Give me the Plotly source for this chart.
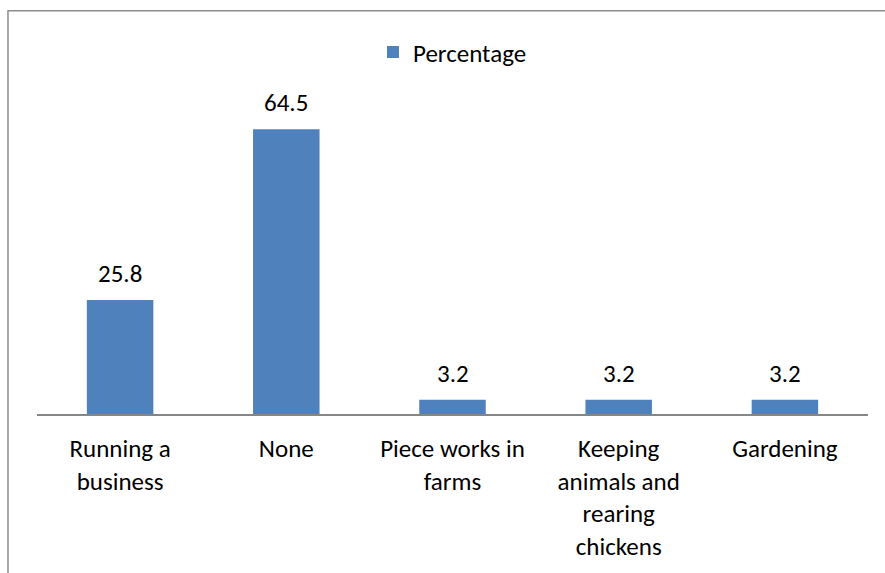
import plotly.graph_objects as go

# Data
categories = [
    "Running a<br>business",
    "None",
    "Piece works in<br>farms",
    "Keeping<br>animals and<br>rearing<br>chickens",
    "Gardening",
]
percentages = [25.8, 64.5, 3.2, 3.2, 3.2]
series_name = "Percentage"

FONT = "Calibri, Carlito, Lato, sans-serif"
FONT_SIZE = 25
BAR_COLOR = "#4F81BD"

fig = go.Figure()
fig.add_trace(go.Bar(
    x=categories,
    y=percentages,
    name=series_name,
    marker=dict(color=BAR_COLOR, line=dict(width=0)),
    showlegend=True,
))

# Value labels above each bar
for cat, val in zip(categories, percentages):
    fig.add_annotation(
        x=cat, y=val, text=f"{val}", showarrow=False,
        yanchor="bottom", yshift=9,
        font=dict(family=FONT, size=FONT_SIZE, color="#000000"),
    )

# Chart frame (top and left edges visible)
fig.add_shape(
    type="rect", xref="paper", yref="paper",
    x0=-0.0349, x1=1.2, y0=-1.0, y1=1.305,
    line=dict(color="#8C8C8C", width=1.5), fillcolor="rgba(0,0,0,0)",
    layer="below",
)

fig.update_layout(
    width=885, height=573,
    margin=dict(l=37, r=17, t=105, b=159),
    paper_bgcolor="white", plot_bgcolor="white",
    bargap=0.6,
    font=dict(family=FONT, size=FONT_SIZE, color="#000000"),
    showlegend=True,
    legend=dict(
        orientation="h", x=0.5, xanchor="center", y=1.171, yanchor="middle",
        font=dict(family=FONT, size=FONT_SIZE, color="#000000"),
        bgcolor="rgba(0,0,0,0)",
    ),
    xaxis=dict(
        showline=True, linecolor="#868686", linewidth=2,
        showgrid=False, zeroline=False, ticks="",
        tickfont=dict(family=FONT, size=FONT_SIZE, color="#000000"),
        ticklabelstandoff=11,
    ),
    yaxis=dict(
        range=[0, 70], visible=False, showgrid=False, zeroline=False,
    ),
)

fig.write_html("out.html")
